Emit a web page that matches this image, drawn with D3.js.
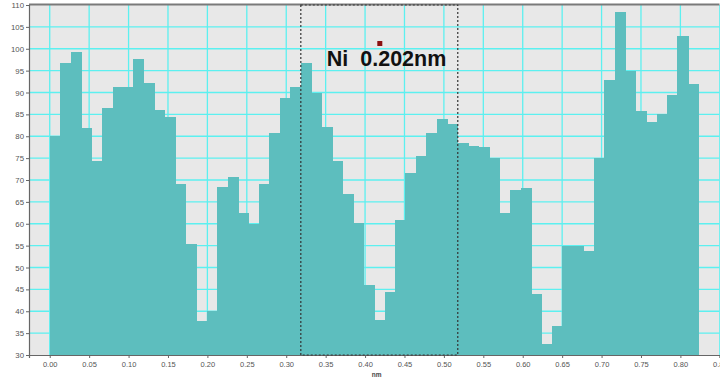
<!DOCTYPE html>
<html>
<head>
<meta charset="utf-8">
<script src="https://cdn.jsdelivr.net/npm/d3@7"></script>
<style>
  html, body { margin: 0; padding: 0; background: #ffffff; }
  svg { display: block; }
</style>
</head>
<body>
<svg id="chart" width="720" height="380"></svg>
<script>
// ---- data ----
const binWidth = 0.013272; // nm per bin
const values = [80, 96.7, 99.3, 81.8, 74.3, 86.5, 91.3, 91.3, 97.6, 92.1, 86, 84.5, 69.1, 55.3, 37.8, 40.1,
  68.5, 70.8, 62.5, 59.9, 69.2, 80.8, 88.7, 91.3, 96.8, 90, 82.2, 74.4, 66.8, 60.1, 46,
  38, 44.3, 60.9, 71.7, 75.6, 80.8, 83.9, 82.7, 78.4, 77.8, 77.5, 75, 62.5, 67.7, 68.1,
  43.9, 32.5, 36.6, 54.9, 54.9, 53.8, 75.1, 92.9, 108.3, 95, 85.8, 83.2, 85.2, 89.4, 103, 91.9];
const xTicks = [0, 0.05, 0.1, 0.15, 0.2, 0.25, 0.3, 0.35, 0.4, 0.45, 0.5, 0.55, 0.6, 0.65, 0.7, 0.75, 0.8, 0.85];
const yTicks = [30, 35, 40, 45, 50, 55, 60, 65, 70, 75, 80, 85, 90, 95, 100, 105, 110];
const selection = [0.3185, 0.5176];
const annotationText = "Ni  0.202nm";
const annotationPos = [0.3515, 96.1];
const markerPos = [0.4187, 101.2];
const xLabel = "nm";

// ---- layout ----
const svg = d3.select("#chart");
const pL = 29, pR = 719.5, pT = 5, pB = 355;
const x = d3.scaleLinear().domain([-0.0263, 0.8496]).range([pL, pR]);
const y = d3.scaleLinear().domain([30, 110]).range([pB, pT]);

// background
svg.append("rect").attr("x", pL).attr("y", pT)
  .attr("width", pR - pL).attr("height", pB - pT).attr("fill", "#e8e8e8");

// grid
const grid = svg.append("g").attr("stroke", "#5cf0f0").attr("stroke-width", 1.3);
grid.selectAll("line.h").data(yTicks.filter(d => d > 30 && d < 110)).join("line")
  .attr("x1", pL).attr("x2", pR).attr("y1", d => y(d)).attr("y2", d => y(d));
grid.selectAll("line.v").data(xTicks).join("line")
  .attr("y1", pT).attr("y2", pB).attr("x1", d => x(d)).attr("x2", d => x(d));

// bars
svg.append("g").attr("shape-rendering", "crispEdges").selectAll("rect").data(values).join("rect")
  .attr("x", (d, i) => x(i * binWidth))
  .attr("width", (d, i) => x((i + 1) * binWidth) - x(i * binWidth) + 0.6)
  .attr("y", d => y(d))
  .attr("height", d => y(30) - y(d))
  .attr("fill", "#5dbebe");

// top border
svg.append("line").attr("x1", pL).attr("x2", pR).attr("y1", pT - 0.5).attr("y2", pT - 0.5)
  .attr("stroke", "#7a7a7a").attr("stroke-width", 2);

// axes
const yAxis = d3.axisLeft(y).tickValues(yTicks).tickSize(3).tickPadding(2).tickFormat(d3.format("d"));
const gy = svg.append("g").attr("transform", `translate(${pL},0)`).call(yAxis);
gy.select(".domain").attr("stroke", "#666").attr("stroke-width", 1.2);
gy.selectAll(".tick line").attr("stroke", "#666");
gy.selectAll(".tick text").attr("fill", "#555").style("font-family", "'Liberation Sans', Arial, sans-serif").style("font-size", "7.8px");

const xAxis = d3.axisBottom(x).tickValues(xTicks).tickSize(3).tickPadding(4).tickFormat(d3.format(".2f"));
const gx = svg.append("g").attr("transform", `translate(0,${pB})`).call(xAxis);
gx.select(".domain").attr("stroke", "#666").attr("stroke-width", 1.2);
gx.selectAll(".tick line").attr("stroke", "#666");
gx.selectAll(".tick text").attr("fill", "#555").style("font-family", "'Liberation Sans', Arial, sans-serif").style("font-size", "7.5px");

svg.append("text").attr("x", x(0.4148)).attr("y", 377)
  .attr("text-anchor", "middle").attr("fill", "#444")
  .style("font-family", "'Liberation Sans', Arial, sans-serif").style("font-size", "6.5px").style("font-weight", "bold")
  .text(xLabel);

// selection box
svg.append("rect")
  .attr("x", x(selection[0])).attr("y", y(110))
  .attr("width", x(selection[1]) - x(selection[0])).attr("height", y(30) - y(110))
  .attr("fill", "none").attr("stroke", "#333").attr("stroke-width", 1.2)
  .attr("stroke-dasharray", "2,2");

// annotation
svg.append("text").attr("x", x(annotationPos[0])).attr("y", y(annotationPos[1]))
  .attr("fill", "#111")
  .style("font-family", "'Liberation Sans', Arial, sans-serif").style("font-size", "21.5px").style("font-weight", "bold")
  .style("white-space", "pre")
  .text(annotationText);

svg.append("rect").attr("x", x(markerPos[0]) - 2.5).attr("y", y(markerPos[1]) - 2.5)
  .attr("width", 5).attr("height", 5).attr("fill", "#8b1010");
</script>
</body>
</html>
